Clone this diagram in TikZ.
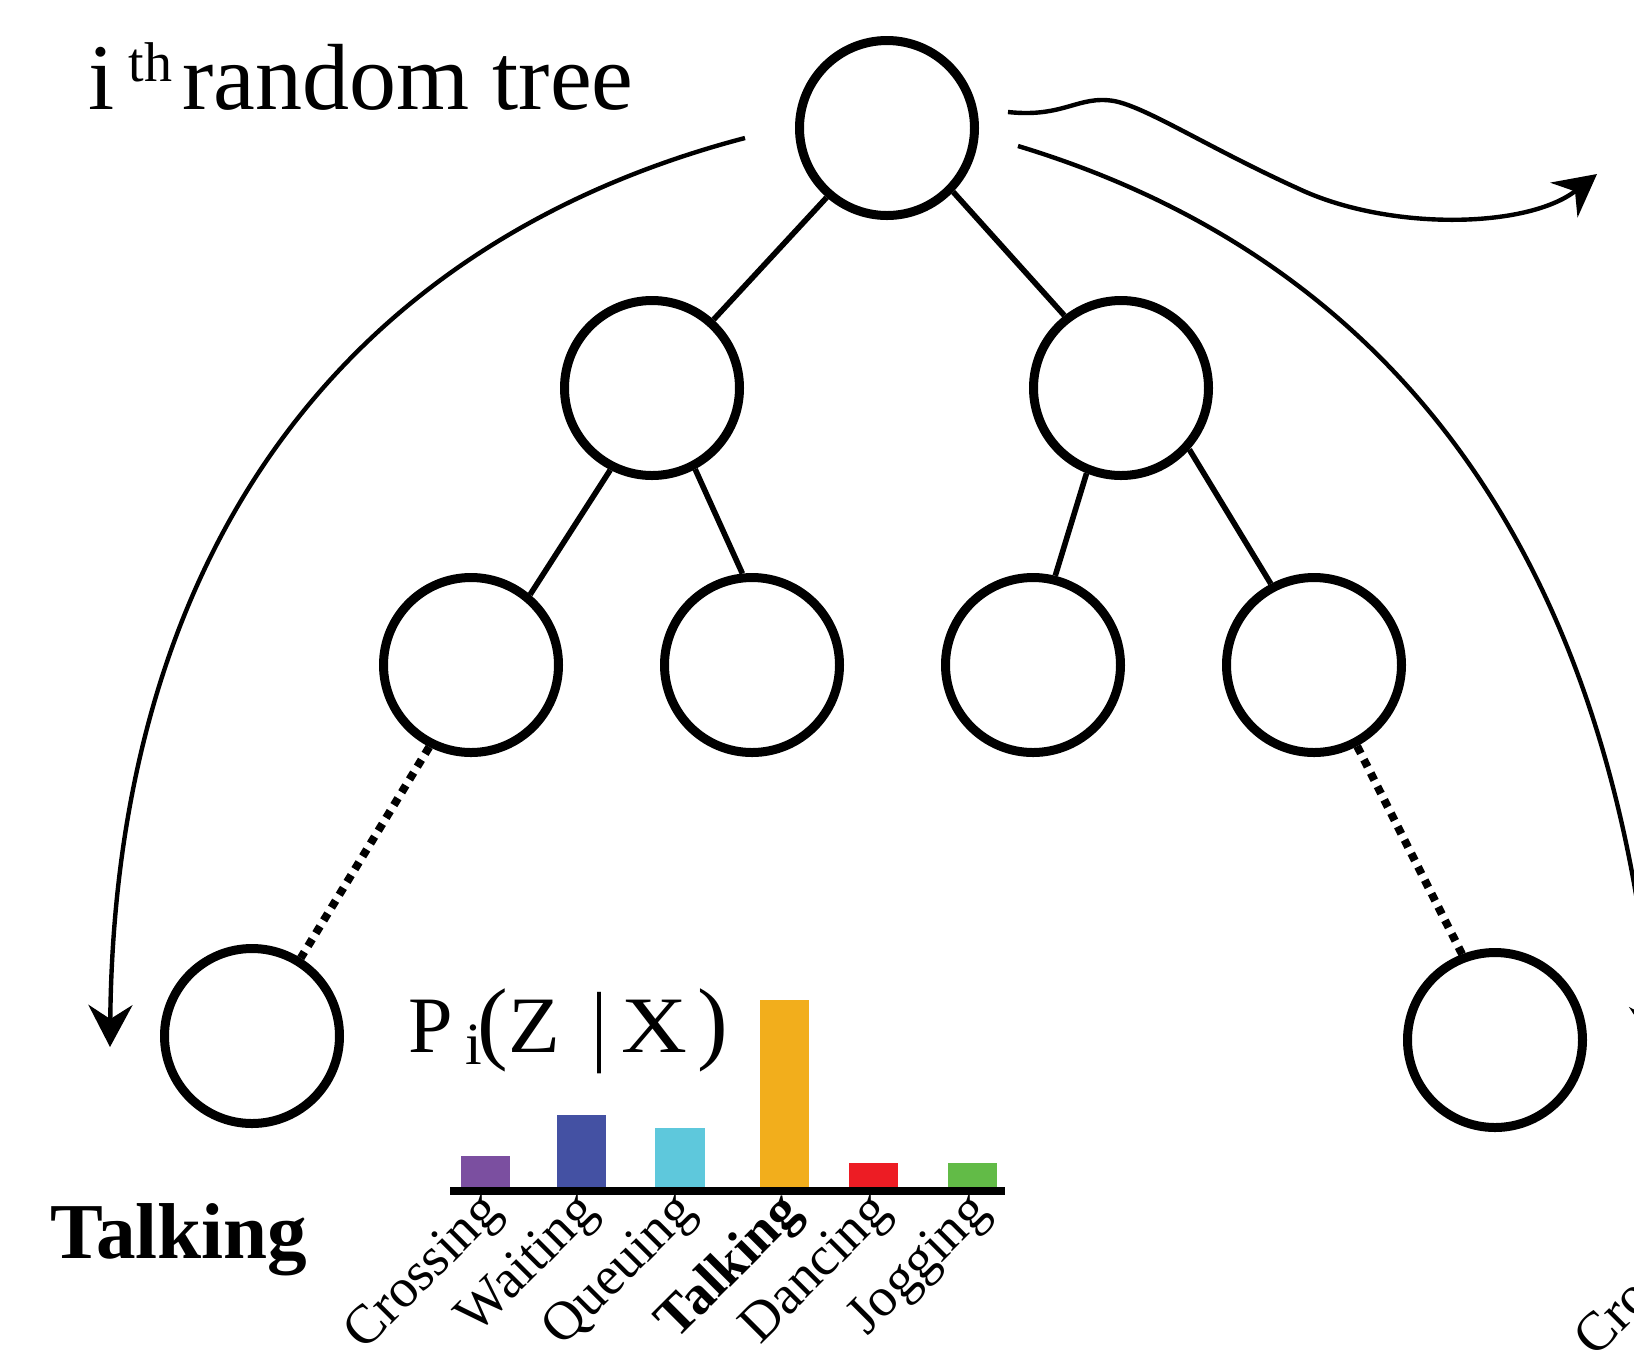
\documentclass[tikz,border=0pt]{standalone}
\usepackage{fontspec}
\usepackage{graphicx}
\setmainfont{Liberation Serif}
\usetikzlibrary{arrows.meta}
\definecolor{cpurple}{HTML}{7B4FA0}
\definecolor{cblue}{HTML}{4451A3}
\definecolor{ccyan}{HTML}{5EC8DC}
\definecolor{corange}{HTML}{F2AE1C}
\definecolor{cred}{HTML}{ED1C24}
\definecolor{cgreen}{HTML}{62BB47}
\newcommand{\fsz}[1]{\fontsize{#1}{#1}\selectfont}
\tikzset{
  tn/.style={circle, draw, line width=4.5pt, minimum size=87.5pt, inner sep=0pt},
  tedge/.style={line width=2.8pt},
  dotline/.style={line width=4pt, dash pattern=on 4pt off 3.5pt},
  arc/.style={line width=2.2pt, -{Stealth[length=21pt,width=22pt,inset=7pt]}},
  lab/.style={rotate=45, anchor=north east, inner sep=0pt, font=\fsz{27.5pt}},
}
\begin{document}
\begin{tikzpicture}[x=0.5pt,y=-0.5pt]
\useasboundingbox (0,0) rectangle (1634,1357);
\clip (0,0) rectangle (1634,1357);
% tree nodes
\node[tn] (root) at (887,128) {};
\node[tn] (l2a) at (652,388) {};
\node[tn] (l2b) at (1121,388) {};
\node[tn] (l3a) at (471,665) {};
\node[tn] (l3b) at (752,665) {};
\node[tn] (l3c) at (1033,665) {};
\node[tn] (l3d) at (1314,665) {};
\node[tn] (leafL) at (252,1036) {};
\node[tn] (leafR) at (1495,1040) {};
% edges
\draw[tedge] (root.229) -- (l2a.48);
\draw[tedge] (root.-44) -- (l2b.128);
\draw[tedge] (l2a.-117) -- (l3a.50);
\draw[tedge] (l2a.-62) -- (l3b.96);
\draw[tedge] (l2b.-112) -- (l3c.76);
\draw[tedge] (l2b.-42) -- (l3d.118);
\draw[dotline] (l3a.-117) -- (leafL.58);
\draw[dotline] (l3d.-62) -- (leafR.111);
% title
\node[anchor=base west, inner sep=0pt, font=\fsz{47pt}] (title) at (88,109)
  {i\hspace{7pt}\raisebox{14pt}{\fsz{28pt}th}\hspace{5pt}random tree};
% curved arrows
\coordinate (la0) at (745,138);
\coordinate (la1) at (110,1047);
\draw[arc] (la0) .. controls (355,240) and (115,540) .. (la1);
\coordinate (ra0) at (1018,146);
\coordinate (ra1) at (1655,1047);
\draw[arc] (ra0) .. controls (1398,261) and (1610,560) .. (ra1);
\coordinate (w0) at (1008,112);
\coordinate (w1) at (1114,101);
\coordinate (w2) at (1297,188);
\coordinate (w3) at (1597,174);
\draw[arc] (w0) .. controls (1064,118) and (1078,95) .. (w1)
  .. controls (1146,107) and (1207,147) .. (w2)
  .. controls (1387,231) and (1527,229) .. (w3);
% probability label
\node[anchor=base west, inner sep=0pt, font=\fsz{40pt}] (prob) at (408,1052)
  {\makebox[28.75pt][l]{P}%
   \makebox[6pt][l]{\raisebox{-6pt}{\fsz{30pt}i}}%
   \makebox[15.5pt][l]{\fsz{46pt}(}%
   \makebox[41.5pt][l]{\scalebox{1.06}[1]{Z}}%
   \makebox[15pt][l]{\raisebox{-1pt}{\scalebox{1}[1.12]{|}}}%
   \makebox[38pt][l]{\scalebox{1.14}[1]{X}}%
   {\fsz{46pt})}};
% bars
\fill[cpurple] (461,1187) rectangle (510,1156);
\fill[cblue]   (557,1187) rectangle (606,1115);
\fill[ccyan]   (655,1187) rectangle (705,1128);
\fill[corange] (760,1187) rectangle (809,1000);
\fill[cred]    (849,1187) rectangle (898,1163);
\fill[cgreen]  (948,1187) rectangle (997,1163);
\coordinate (ax0) at (450,1191);
\coordinate (ax1) at (1005,1191);
\draw[line width=4.2pt] (ax0) -- (ax1);
% bar labels
\node[lab] (lc) at (477,1187) {Crossing};
\node[lab] (lw) at (573,1187) {Waiting};
\node[lab] (lq) at (671,1187) {Queuing};
\node[lab, font=\fsz{27.5pt}\bfseries] (lt) at (776,1187) {Talking};
\node[lab] (ld) at (866,1187) {Dancing};
\node[lab] (lj) at (965,1187) {Jogging};
\node[lab] (lc2) at (1708,1194) {Crossing};
% result label
\node[anchor=base west, inner sep=0pt, font=\fsz{39.6pt}\bfseries] (res) at (50,1258) {Talking};
\end{tikzpicture}
\end{document}
